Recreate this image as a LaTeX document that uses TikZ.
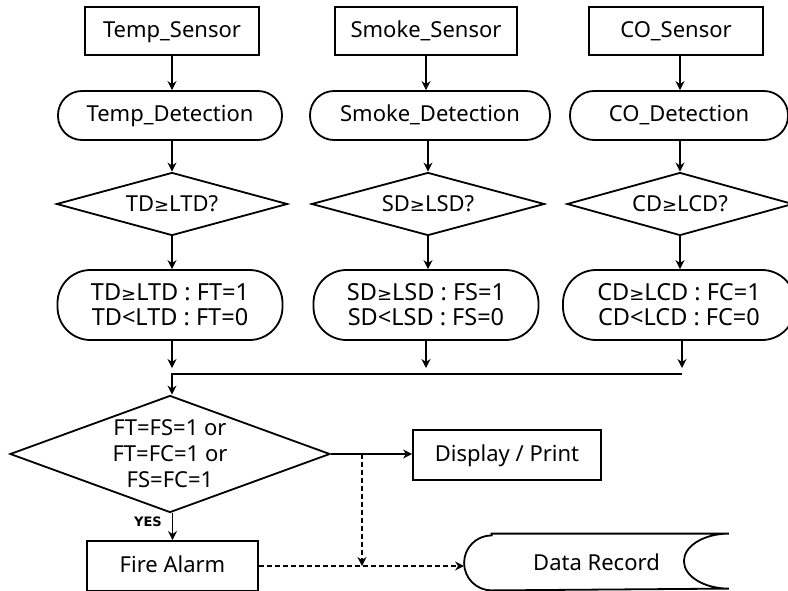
\documentclass[tikz,border=0pt]{standalone}
\usepackage{fontspec}
\setmainfont{Noto Sans}
\newfontfamily\symfont{DejaVu Sans}
\newcommand{\geqsym}{{\symfont\fontsize{18}{25}\selectfont ≥}}
\usetikzlibrary{shapes.geometric,arrows.meta}

\begin{document}
\begin{tikzpicture}[x=1pt,y=-1pt,line width=1.8pt,>={Stealth[length=9pt,width=9pt]},
    font=\fontsize{22}{26}\selectfont,
    sensor/.style={draw,rectangle,minimum width=174pt,minimum height=48pt,text height=16pt,text depth=4pt},
    detect/.style={draw,rounded corners=24pt,minimum height=49pt,text height=16pt,text depth=4pt},
    test/.style={draw,diamond,aspect=3.7,inner sep=0pt,minimum height=63pt},
    flag/.style={draw,rounded corners=33pt,minimum height=70pt,align=center,font=\fontsize{23.5}{25}\selectfont},
    dashline/.style={dash pattern=on 5pt off 3pt}]
    \useasboundingbox (0,0) rectangle (788,590);
    \node[sensor] (tsen) at (172,31) {Temp\_Sensor};
    \node[sensor,minimum width=182pt] (ssen) at (426,31) {Smoke\_Sensor};
    \node[sensor] (csen) at (676,31) {CO\_Sensor};
    \node[detect,minimum width=224pt] (tdet) at (170,115.5) {Temp\_Detection};
    \node[detect,minimum width=240pt] (sdet) at (430,115.5) {Smoke\_Detection};
    \node[detect,minimum width=218pt] (cdet) at (679,115.5) {CO\_Detection};
    \node[test,minimum width=231pt] (ttest) at (172,204) {TD\geqsym LTD?};
    \node[test,minimum width=233pt] (stest) at (428,204) {SD\geqsym LSD?};
    \node[test,minimum width=226pt] (ctest) at (680,204) {CD\geqsym LCD?};
    \node[flag,minimum width=225pt] (tflag) at (170,305) {TD\geqsym LTD : FT=1\\TD<LTD : FT=0};
    \node[flag,minimum width=225pt] (sflag) at (426,305) {SD\geqsym LSD : FS=1\\SD<LSD : FS=0};
    \node[flag,minimum width=232pt] (cflag) at (679,305) {CD\geqsym LCD : FC=1\\CD<LCD : FC=0};
    \coordinate (busin) at (0,368);
    \coordinate (busl) at (172,374);
    \coordinate (busr) at (682,374);
    \node[draw,diamond,inner sep=-25pt,minimum width=320pt,minimum height=117pt,align=center] (fire) at (170,454) {FT=FS=1 or\\FT=FC=1 or\\FS=FC=1};
    \node[sensor,minimum width=171pt,minimum height=50pt] (alarm) at (172.5,566) {Fire Alarm};
    \node[sensor,minimum width=188pt,minimum height=50pt] (disp) at (507,455) {Display / Print};
    \node[minimum width=263pt,minimum height=55pt] (rec) at (596.5,562) {Data Record};
    \node[font=\symfont\bfseries\fontsize{13}{15}\selectfont] (yes) at (148,522) {YES};
    \coordinate (split) at (362,454);
    \draw ([xshift=27.5pt]rec.north west) -- (rec.north east)
        arc[start angle=90,end angle=270,x radius=45pt,y radius=27.5pt]
        -- ([xshift=27.5pt]rec.south west)
        arc[start angle=270,end angle=90,x radius=27.5pt,y radius=27.5pt] -- cycle;
    \draw[->] (tsen) -- (tsen.south |- tdet.north);
    \draw[->] (ssen) -- (ssen.south |- sdet.north);
    \draw[->] (csen.south -| ctest.north) -- (ctest.north |- cdet.north);
    \draw[->] (tdet.south -| ttest.north) -- (ttest.north);
    \draw[->] (sdet.south -| stest.north) -- (stest.north);
    \draw[->] (cdet.south -| ctest.north) -- (ctest.north);
    \draw[->] (ttest.south) -- (ttest.south |- tflag.north);
    \draw[->] (stest.south) -- (stest.south |- sflag.north);
    \draw[->] (ctest.south) -- (ctest.south |- cflag.north);
    \draw[->] (busl |- tflag.south) -- (busl |- busin);
    \draw[->] (sflag.south) -- (sflag.south |- busin);
    \draw[->] (busr |- cflag.south) -- (busr |- busin);
    \draw[->] (busr) -- (busl) -- (busl |- fire.north);
    \draw[->] (fire.south -| alarm.north) -- (alarm.north);
    \draw[->] (fire.east) -- (fire.east -| disp.west);
    \draw[->,dashline] (split) -- (split |- alarm.east);
    \draw[->,dashline] (alarm.east) -- (alarm.east -| rec.west);
\end{tikzpicture}
\end{document}
